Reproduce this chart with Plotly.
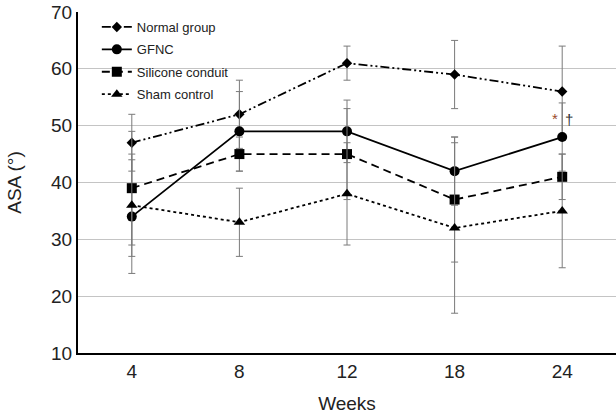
import plotly.graph_objects as go

weeks = ["4", "8", "12", "18", "24"]

normal = [47, 52, 61, 59, 56]
normal_err = [5, 6, 3, 6, 8]

gfnc = [34, 49, 49, 42, 48]
gfnc_err = [10, 7, 5.5, 6, 6]

silicone = [39, 45, 45, 37, 41]
silicone_err = [10, 3, 8, 11, 4]

sham = [36, 33, 38, 32, 35]
sham_err = [9, 6, 9, 15, 10]

err_color = "#7a7a7a"

def add(name, y, err, dash, symbol, size):
    fig.add_trace(go.Scatter(
        x=weeks, y=y, name=name, mode="lines+markers", legendgroup=name,
        line=dict(color="black", width=1.8, dash=dash),
        marker=dict(color="black", symbol=symbol, size=size),
        error_y=dict(type="data", array=err, visible=True,
                     color=err_color, thickness=1, width=3.5),
    ))

fig = go.Figure()
add("Normal group", normal, normal_err, "9px,3px,2px,3px,2px,3px", "diamond", 8)
add("GFNC", gfnc, gfnc_err, "solid", "circle", 10)
add("Silicone conduit", silicone, silicone_err, "8px,5px", "square", 10)
add("Sham control", sham, sham_err, "dot", "triangle-up", 10)

fig.add_annotation(x=4, y=51.3, xref="x", yref="y", text="*", showarrow=False,
                   xshift=-7, font=dict(size=15, color="#9b4a2a"))
fig.add_annotation(x=4, y=51.0, xref="x", yref="y", text="†", showarrow=False,
                   xshift=7, font=dict(size=15, color="#333333"))

fig.update_layout(
    width=616, height=414,
    margin=dict(l=78, r=0, t=12, b=61),
    paper_bgcolor="white", plot_bgcolor="white",
    font=dict(family="Liberation Sans, Arial, sans-serif", color="#222222"),
    showlegend=True,
    legend=dict(x=0.035, y=1.0, xanchor="left", yanchor="top",
                bgcolor="rgba(0,0,0,0)", font=dict(size=13, color="#222222"),
                traceorder="grouped", tracegroupgap=2.5),
    xaxis=dict(
        type="category", range=[-0.5, 4.5],
        showline=True, linecolor="black", linewidth=2,
        showgrid=False, ticks="", tickfont=dict(size=19),
        title=dict(text="Weeks", font=dict(size=19), standoff=16),
    ),
    yaxis=dict(
        range=[10, 70], dtick=10,
        showline=True, linecolor="black", linewidth=2,
        showgrid=True, gridcolor="#c4c4c4", gridwidth=1,
        zeroline=False, ticks="", tickfont=dict(size=19),
        title=dict(text="ASA (°)", font=dict(size=19), standoff=24),
    ),
)

fig.write_html("out.html", config={"displayModeBar": False},
               post_script="document.body.style.margin='0';")
